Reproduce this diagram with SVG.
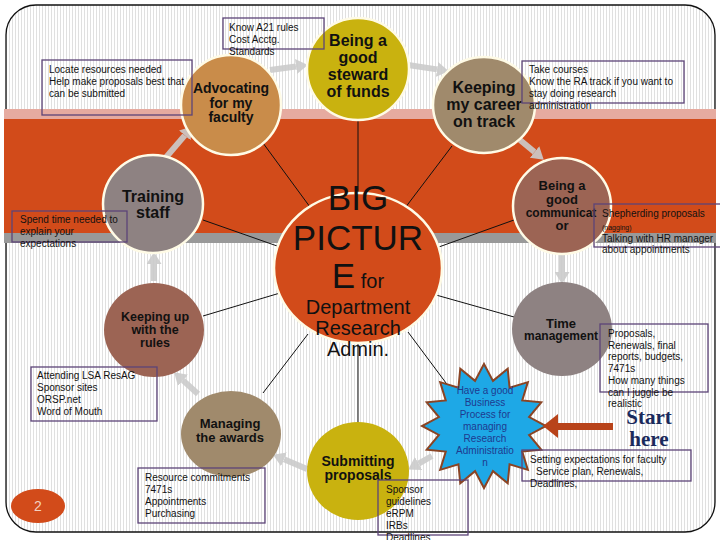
<svg xmlns="http://www.w3.org/2000/svg" width="720" height="540" viewBox="0 0 720 540">
<defs>
<pattern id="stripes" width="3" height="10" patternUnits="userSpaceOnUse"><rect width="3" height="10" fill="#ffffff"/><rect width="1" height="10" fill="#e0e0e0"/></pattern>
<marker id="gh" markerUnits="userSpaceOnUse" markerWidth="13" markerHeight="15" refX="0" refY="7.5" orient="auto"><path d="M0,0 L12,7.5 L0,15 z" fill="#cccccc"/></marker>
</defs>
<style>
.nt{font-family:"Liberation Sans",Arial,sans-serif;font-weight:bold;fill:#111;text-anchor:middle}
.bt{font-family:"Liberation Sans",Arial,sans-serif;font-size:10px;fill:#111}
.box{fill:none;stroke:#5c4478;stroke-width:1.3}
.ring{stroke:#fffbe6;stroke-width:2.5}
.con line{stroke:#111;stroke-width:1}
.ga line{stroke:#cccccc;stroke-width:6;marker-end:url(#gh)}
.big{font-family:"Liberation Sans",Arial,sans-serif;fill:#111;text-anchor:middle}
</style>
<rect x="0" y="0" width="720" height="540" fill="#ffffff"/>
<rect x="6" y="5" width="709" height="527" rx="30" ry="30" fill="url(#stripes)" stroke="#111" stroke-width="1.3"/>
<g id="band">
<rect x="4" y="109" width="712" height="10" fill="#e6aba0"/>
<rect x="4" y="119" width="712" height="114" fill="#d24b1a"/>
<rect x="4" y="233" width="712" height="10" fill="#999999"/>
</g>
<g class="con" id="connectors">
<line x1="263" y1="143" x2="310" y2="207"/>
<line x1="358" y1="118" x2="358" y2="196"/>
<line x1="452" y1="146" x2="405" y2="208"/>
<line x1="514" y1="220" x2="436" y2="248"/>
<line x1="436" y1="295" x2="514" y2="317"/>
<line x1="408" y1="332" x2="452" y2="391"/>
<line x1="358" y1="340" x2="358" y2="423"/>
<line x1="308" y1="334" x2="263" y2="393"/>
<line x1="280" y1="293" x2="203" y2="316"/>
<line x1="203" y1="220" x2="280" y2="247"/>
</g>
<g class="ga" id="flow-arrows" opacity="0.9">
<line x1="162" y1="162" x2="184.8" y2="135.4"/>
<line x1="270" y1="70" x2="296" y2="66.5"/>
<line x1="408" y1="65" x2="437" y2="69.4"/>
<line x1="520" y1="140" x2="534.5" y2="152"/>
<line x1="562" y1="253" x2="562" y2="272"/>
<line x1="432" y1="456" x2="418.6" y2="463.6"/>
<line x1="307" y1="469" x2="284" y2="459.3"/>
<line x1="198" y1="394" x2="183" y2="380.4"/>
<line x1="154" y1="281" x2="154" y2="264"/>
</g>
<g id="big-picture">
<ellipse cx="358" cy="268" rx="84" ry="75" fill="#d24b1a" class="ring" stroke-width="3"/>
<text class="big" x="358" y="210" font-size="35">BIG</text>
<text class="big" x="358" y="250" font-size="35">PICTUR</text>
<text class="big" x="358" y="288"><tspan font-size="35">E</tspan><tspan font-size="20"> for</tspan></text>
<text class="big" x="358" y="314" font-size="20">Department</text>
<text class="big" x="358" y="335" font-size="20">Research</text>
<text class="big" x="358" y="356" font-size="20">Admin.</text>
</g>
<g id="advocating">
<ellipse cx="231" cy="105" rx="50" ry="50" fill="#c98c4a" class="ring"/>
<text class="nt" font-size="14"><tspan x="231" y="93">Advocating</tspan><tspan x="231" y="108">for my</tspan><tspan x="231" y="122">faculty</tspan></text>
</g>
<g id="steward">
<ellipse cx="358" cy="69" rx="51" ry="51" fill="#c9b20f" class="ring"/>
<text class="nt" font-size="16"><tspan x="358" y="46">Being a</tspan><tspan x="358" y="63">good</tspan><tspan x="358" y="80">steward</tspan><tspan x="358" y="97">of funds</tspan></text>
</g>
<g id="career">
<ellipse cx="484" cy="105" rx="51" ry="48" fill="#a08a6c" class="ring"/>
<text class="nt" font-size="16"><tspan x="484" y="93">Keeping</tspan><tspan x="484" y="110">my career</tspan><tspan x="484" y="127">on track</tspan></text>
</g>
<g id="communicator">
<ellipse cx="562" cy="206" rx="49" ry="48" fill="#9c6454" class="ring"/>
<text class="nt" font-size="13"><tspan x="562" y="190">Being a</tspan><tspan x="562" y="204">good</tspan><tspan x="561" y="217" font-size="12">communicat</tspan><tspan x="562" y="230">or</tspan></text>
</g>
<g id="time-management">
<ellipse cx="562" cy="329" rx="50" ry="47" fill="#8e8282"/>
<text class="nt" font-size="13"><tspan x="561" y="328">Time</tspan><tspan x="561" y="340" font-size="12">management</tspan></text>
</g>
<g id="business-process">
<polygon points="484,364 492.97,380.88 507.73,368.72 509.56,387.75 527.84,382.16 522.25,400.44 541.28,402.27 529.12,417.03 546,426 529.12,434.97 541.28,449.73 522.25,451.56 527.84,469.84 509.56,464.25 507.73,483.28 492.97,471.12 484,488 475.03,471.12 460.27,483.28 458.44,464.25 440.16,469.84 445.75,451.56 426.72,449.73 438.88,434.97 422,426 438.88,417.03 426.72,402.27 445.75,400.44 440.16,382.16 458.44,387.75 460.27,368.72 475.03,380.88" fill="#1ea8e6" stroke="#8a4424" stroke-width="2"/>
<text font-family="Liberation Sans, Arial, sans-serif" font-size="10" fill="#1f3a8f" text-anchor="middle"><tspan x="485" y="394">Have a good</tspan><tspan x="485" y="406">Business</tspan><tspan x="485" y="418">Process for</tspan><tspan x="485" y="430">managing</tspan><tspan x="485" y="442">Research</tspan><tspan x="485" y="454">Administratio</tspan><tspan x="485" y="466">n</tspan></text>
</g>
<g id="submitting">
<ellipse cx="358" cy="471" rx="51" ry="49" fill="#c9b20f"/>
<text class="nt" font-size="14"><tspan x="358" y="466">Submitting</tspan><tspan x="358" y="480">proposals</tspan></text>
</g>
<g id="managing">
<ellipse cx="231" cy="434" rx="50" ry="43" fill="#a08a6c"/>
<text class="nt" font-size="13"><tspan x="230" y="428">Managing</tspan><tspan x="230" y="442">the awards</tspan></text>
</g>
<g id="keeping-up">
<ellipse cx="154" cy="330" rx="50" ry="47" fill="#9c6454"/>
<text class="nt" font-size="12.5"><tspan x="155" y="321">Keeping up</tspan><tspan x="155" y="334">with the</tspan><tspan x="155" y="347">rules</tspan></text>
</g>
<g id="training">
<ellipse cx="153" cy="204" rx="50" ry="49" fill="#8e8282" class="ring"/>
<text class="nt" font-size="16"><tspan x="153" y="202">Training</tspan><tspan x="153" y="218">staff</tspan></text>
</g>
<g id="note-a21">
<rect class="box" x="223" y="18" width="101" height="31"/>
<text class="bt"><tspan x="229" y="31">Know A21 rules</tspan><tspan x="229" y="43">Cost Acctg.</tspan><tspan x="229" y="55">Standards</tspan></text>
</g>
<g id="note-locate">
<rect class="box" x="42" y="60" width="150" height="55"/>
<text class="bt"><tspan x="49" y="73">Locate resources needed</tspan><tspan x="49" y="85">Help make proposals best that</tspan><tspan x="49" y="97">can be submitted</tspan></text>
</g>
<g id="note-courses">
<rect class="box" x="522" y="61" width="162" height="42"/>
<text class="bt"><tspan x="529" y="73">Take courses</tspan><tspan x="529" y="85">Know the RA track if you want to</tspan><tspan x="529" y="97">stay doing research</tspan><tspan x="529" y="109">administration</tspan></text>
</g>
<g id="note-spend">
<rect class="box" x="12" y="211" width="115" height="31"/>
<text class="bt"><tspan x="20" y="223">Spend time needed to</tspan><tspan x="20" y="235">explain your</tspan><tspan x="20" y="247">expectations</tspan></text>
</g>
<g id="note-shepherd">
<rect class="box" x="594" y="204" width="130" height="43"/>
<text class="bt"><tspan x="602" y="217">Shepherding proposals</tspan><tspan x="602" y="230" font-size="7">(nagging)</tspan><tspan x="602" y="242">Talking with HR manager</tspan><tspan x="602" y="253">about appointments</tspan></text>
</g>
<g id="note-proposals">
<rect class="box" x="600" y="324" width="108" height="68"/>
<text class="bt"><tspan x="608" y="337">Proposals,</tspan><tspan x="608" y="348.7">Renewals, final</tspan><tspan x="608" y="360.4">reports, budgets,</tspan><tspan x="608" y="372.1">7471s</tspan><tspan x="608" y="383.8">How many things</tspan><tspan x="608" y="395.5">can I juggle be</tspan><tspan x="608" y="407">realistic</tspan></text>
</g>
<g id="start-here">
<rect x="555" y="423" width="58" height="7" fill="#b8431a"/>
<polygon points="543,426 558,414 558,438" fill="#b8431a"/>
<text font-family="Liberation Serif, Times New Roman, serif" font-weight="bold" font-size="21" fill="#1a2a5c" text-anchor="middle"><tspan x="649" y="424">Start</tspan><tspan x="649" y="446">here</tspan></text>
</g>
<g id="note-setting">
<rect class="box" x="522" y="450" width="169" height="31"/>
<text class="bt"><tspan x="530" y="463">Setting expectations for faculty</tspan><tspan x="536" y="475">Service plan, Renewals,</tspan><tspan x="530" y="487">Deadlines,</tspan></text>
</g>
<g id="note-sponsor">
<rect class="box" x="378" y="480" width="90" height="55"/>
<text class="bt"><tspan x="386" y="493">Sponsor</tspan><tspan x="386" y="505">guidelines</tspan><tspan x="386" y="517">eRPM</tspan><tspan x="386" y="529">IRBs</tspan><tspan x="386" y="541">Deadlines</tspan></text>
</g>
<g id="note-attending">
<rect class="box" x="31" y="367" width="126" height="54"/>
<text class="bt"><tspan x="37" y="379">Attending LSA ResAG</tspan><tspan x="37" y="391">Sponsor sites</tspan><tspan x="37" y="403">ORSP.net</tspan><tspan x="37" y="415">Word of Mouth</tspan></text>
</g>
<g id="note-resource">
<rect class="box" x="138" y="468" width="127" height="55"/>
<text class="bt"><tspan x="145" y="481">Resource commitments</tspan><tspan x="145" y="493">7471s</tspan><tspan x="145" y="505">Appointments</tspan><tspan x="145" y="517">Purchasing</tspan></text>
</g>
<g id="page-number">
<ellipse cx="38" cy="506" rx="27" ry="17" fill="#d24b1a"/>
<text x="38" y="511" font-family="Liberation Sans, Arial, sans-serif" font-size="14" fill="#f3d2c0" text-anchor="middle">2</text>
</g>
</svg>
